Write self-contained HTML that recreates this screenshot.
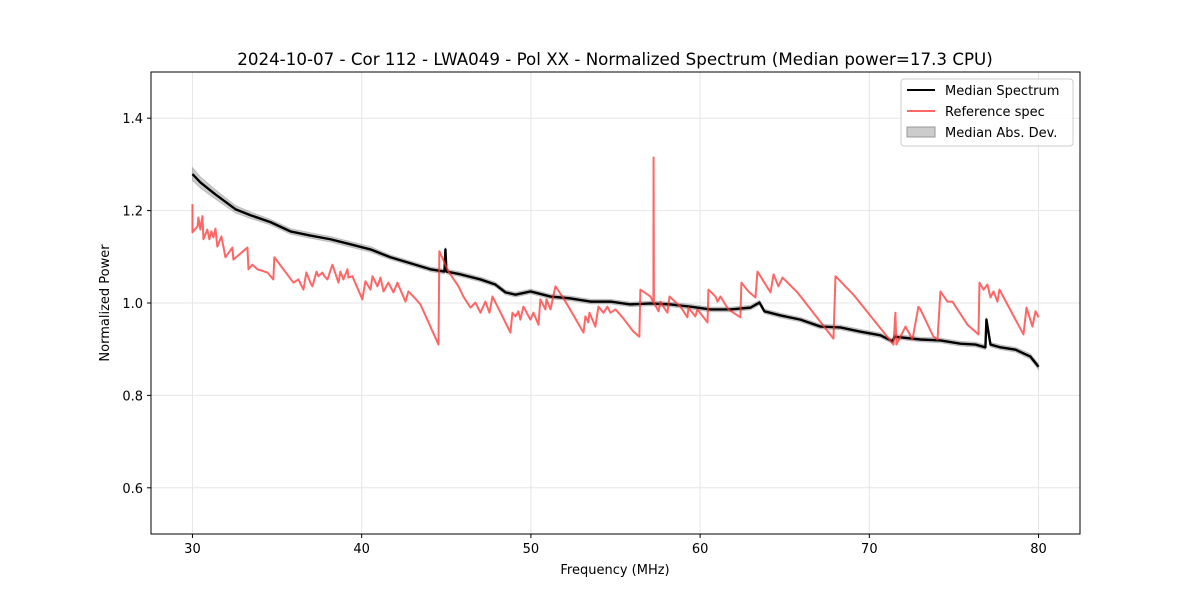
<!DOCTYPE html>
<html><head><meta charset="utf-8"><style>
body{margin:0;background:#fff;font-family:"Liberation Sans","DejaVu Sans",sans-serif}
svg text{font-family:"DejaVu Sans","Liberation Sans",sans-serif}
</style></head><body>
<svg id="chart" width="1200" height="600" viewBox="0 0 1200 600" xmlns="http://www.w3.org/2000/svg">
<rect width="1200" height="600" fill="#fff"/>
<g id="grid"></g>
<g id="band"></g>
<g id="series"></g>
<rect x="151" y="72" width="929" height="462" fill="none" stroke="#000" stroke-width="1"/>
<g id="axes"></g>
<text x="615" y="65" text-anchor="middle" font-size="16.7">2024-10-07 - Cor 112 - LWA049 - Pol XX - Normalized Spectrum (Median power=17.3 CPU)</text>
<text x="615" y="574" text-anchor="middle" font-size="13">Frequency (MHz)</text>
<text transform="translate(109,303) rotate(-90)" text-anchor="middle" font-size="13">Normalized Power</text>
<g>
<rect x="901" y="79" width="172" height="67" rx="3" fill="#fff" fill-opacity="0.85" stroke="#ccc"/>
<g><line x1="907" y1="90" x2="935" y2="90" stroke="#000" stroke-width="2"/><text x="945" y="95" font-size="13">Median Spectrum</text></g>
<g><line x1="907" y1="111" x2="935" y2="111" stroke="#ff5555" stroke-opacity="0.9" stroke-width="2"/><text x="945" y="116" font-size="13">Reference spec</text></g>
<g><rect x="907" y="127" width="28" height="10" fill="#000" fill-opacity="0.2" stroke="#999"/><text x="945" y="137" font-size="13">Median Abs. Dev.</text></g>
</g>
</svg>
<script>
const xTicks=[30,40,50,60,70,80];
const yTicks=[0.6,0.8,1.0,1.2,1.4];
const refFreq=[30.00,30.00,30.30,30.35,30.47,30.59,30.65,30.88,31.00,31.12,31.24,31.36,31.47,31.71,31.95,32.36,32.42,33.25,33.31,33.54,33.84,34.43,34.78,34.84,35.97,36.26,36.56,36.73,36.97,37.09,37.33,37.44,37.68,37.80,37.98,38.27,38.63,38.74,38.92,39.16,39.22,39.45,40.04,40.22,40.52,40.64,40.93,41.11,41.29,41.58,41.88,42.11,42.59,42.76,43.06,43.47,44.54,44.59,45.13,45.72,46.01,46.43,46.72,47.02,47.31,47.55,47.73,48.32,48.79,48.91,49.09,49.26,49.38,49.56,49.97,50.15,50.45,50.56,50.86,50.92,51.16,51.45,51.86,52.22,53.11,53.22,53.40,53.46,53.81,53.99,54.29,54.52,54.70,55.00,55.41,56.06,56.41,56.47,57.07,57.24,57.25,57.27,57.54,57.66,57.83,58.07,58.19,58.84,59.25,59.31,59.72,59.84,60.44,60.49,60.91,61.03,61.20,61.67,62.38,62.44,62.86,63.27,63.39,64.16,64.34,64.63,64.87,65.75,67.88,68.00,69.06,71.43,71.54,71.60,72.14,72.55,72.90,73.02,73.79,74.03,74.20,74.62,74.91,75.80,76.45,76.51,76.75,76.98,77.16,77.34,77.57,77.69,79.11,79.29,79.64,79.82,80.00];
const refPower=[1.214,1.153,1.166,1.185,1.159,1.188,1.138,1.159,1.138,1.155,1.142,1.161,1.122,1.144,1.099,1.120,1.094,1.120,1.073,1.083,1.073,1.066,1.051,1.099,1.044,1.051,1.029,1.066,1.044,1.036,1.068,1.058,1.066,1.058,1.051,1.083,1.044,1.068,1.051,1.073,1.055,1.058,1.008,1.047,1.029,1.058,1.036,1.055,1.025,1.044,1.023,1.044,1.003,1.025,1.014,0.997,0.910,1.112,1.068,1.036,1.014,0.990,1.001,0.979,1.003,0.979,1.014,0.971,0.936,0.979,0.971,0.982,0.964,0.992,0.964,0.979,0.953,1.008,0.986,1.008,0.986,1.036,1.014,0.992,0.936,0.971,0.958,0.979,0.949,0.992,0.979,0.992,0.979,0.986,0.969,0.938,0.927,1.029,1.014,1.001,1.315,1.001,0.982,1.003,0.992,0.979,1.014,0.992,0.969,0.990,0.971,0.986,0.958,1.029,1.014,1.003,1.014,0.986,0.969,1.044,1.025,1.012,1.068,1.023,1.062,1.036,1.055,1.023,0.923,1.058,1.018,0.910,0.979,0.910,0.949,0.921,0.992,0.986,0.927,0.921,1.025,1.003,1.003,0.953,0.932,1.044,1.029,1.040,1.012,1.025,1.003,1.029,0.932,0.990,0.949,0.982,0.969];
const medFreq=[30.00,30.47,31.36,32.54,33.43,34.61,35.79,36.97,38.15,39.34,40.52,41.70,42.88,44.06,44.89,44.95,45.01,45.84,47.02,47.90,48.50,49.09,49.98,51.16,52.34,53.52,54.70,55.88,57.07,58.25,59.43,60.61,61.79,62.98,63.51,63.80,64.75,65.93,67.11,68.29,69.48,70.66,71.37,71.49,73.02,74.20,75.39,76.27,76.86,76.92,77.16,77.75,78.64,79.52,80.00];
const medPower=[1.279,1.261,1.235,1.203,1.190,1.175,1.155,1.146,1.138,1.127,1.116,1.099,1.086,1.073,1.068,1.116,1.068,1.062,1.051,1.040,1.023,1.018,1.025,1.014,1.010,1.003,1.003,0.997,0.999,0.997,0.992,0.986,0.986,0.990,1.001,0.982,0.973,0.964,0.949,0.947,0.938,0.930,0.917,0.927,0.921,0.919,0.912,0.910,0.904,0.964,0.910,0.904,0.899,0.884,0.862];
const medMad=[0.014,0.012,0.010,0.008,0.007,0.006,0.006,0.006,0.006,0.006,0.006,0.005,0.005,0.005,0.005,0.005,0.005,0.005,0.005,0.005,0.005,0.005,0.005,0.005,0.005,0.005,0.005,0.005,0.005,0.005,0.005,0.005,0.005,0.005,0.005,0.005,0.005,0.005,0.005,0.005,0.005,0.005,0.005,0.005,0.005,0.005,0.005,0.005,0.005,0.005,0.005,0.005,0.005,0.006,0.006];

const X0=151,X1=1080,Y0=72,Y1=534,XMIN=27.55,XMAX=82.45,YMIN=0.5,YMAX=1.5;
const xs=f=>X0+(f-XMIN)/(XMAX-XMIN)*(X1-X0);
const ys=p=>Y1-(p-YMIN)/(YMAX-YMIN)*(Y1-Y0);
const NS='http://www.w3.org/2000/svg';
function mk(tag,attrs,parent){const e=document.createElementNS(NS,tag);for(const k in attrs)e.setAttribute(k,attrs[k]);parent.appendChild(e);return e;}
const grid=document.getElementById('grid'),axes=document.getElementById('axes'),series=document.getElementById('series'),band=document.getElementById('band');
xTicks.forEach(t=>{const x=xs(t);
 const g=mk('line',{x1:x,x2:x,y1:Y0,y2:Y1,stroke:'#e6e6e6','stroke-width':1},grid);
 
 
 mk('line',{x1:x,x2:x,y1:Y1,y2:Y1+4,stroke:'#000'},axes);
 const tx=mk('text',{x:x,y:Y1+19,'text-anchor':'middle','font-size':13},axes);tx.textContent=t;
 
 
});
yTicks.forEach(t=>{const y=ys(t);
 const g=mk('line',{x1:X0,x2:X1,y1:y,y2:y,stroke:'#e6e6e6','stroke-width':1},grid);
 
 
 mk('line',{x1:X0-4,x2:X0,y1:y,y2:y,stroke:'#000'},axes);
 const tx=mk('text',{x:X0-8,y:y+5,'text-anchor':'end','font-size':13},axes);tx.textContent=t.toFixed(1);
 
 
});
let up=medFreq.map((f,i)=>xs(f)+','+ys(medPower[i]+medMad[i]));
let dn=medFreq.map((f,i)=>xs(f)+','+ys(medPower[i]-medMad[i])).reverse();
const bp=mk('polygon',{points:up.concat(dn).join(' '),fill:'#000','fill-opacity':0.2,stroke:'#888','stroke-opacity':0.4},band);


const ml=mk('polyline',{points:medFreq.map((f,i)=>xs(f)+','+ys(medPower[i])).join(' '),fill:'none',stroke:'#000','stroke-width':2.4,'stroke-linejoin':'round'},series);


const rl=mk('polyline',{points:refFreq.map((f,i)=>xs(f)+','+ys(refPower[i])).join(' '),fill:'none',stroke:'#ff3333','stroke-opacity':0.75,'stroke-width':2,'stroke-linejoin':'round'},series);


</script>
</body></html>
